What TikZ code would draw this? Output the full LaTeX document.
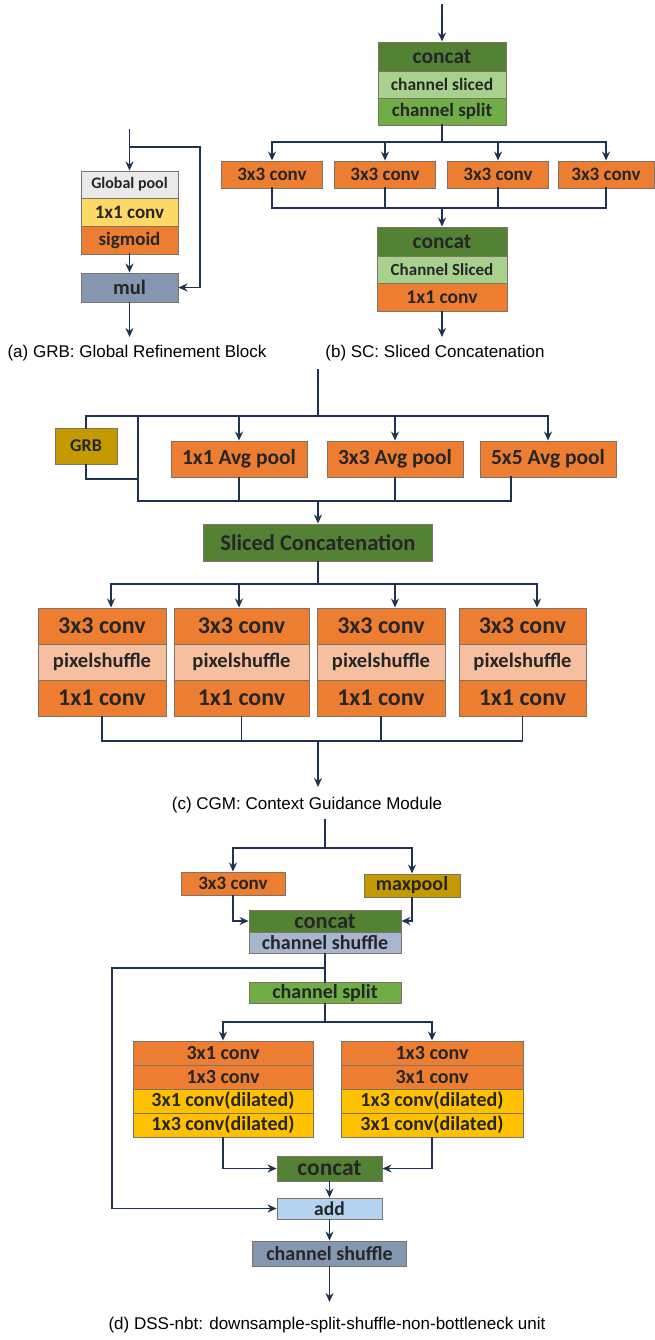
\documentclass[tikz,border=0pt]{standalone}
\usepackage{fontspec}
\setmainfont{Liberation Sans}
\newfontfamily\boxfont{Carlito}
\usetikzlibrary{arrows.meta, positioning, calc}
\definecolor{convorange}{HTML}{ED7D31}
\definecolor{darkgreen}{HTML}{548235}
\definecolor{midgreen}{HTML}{70AD47}
\definecolor{palegreen}{HTML}{A9D18E}
\definecolor{poolgray}{HTML}{EAEAEA}
\definecolor{lightyellow}{HTML}{FFD966}
\definecolor{dilyellow}{HTML}{FFC000}
\definecolor{slateblue}{HTML}{8497B0}
\definecolor{paleslate}{HTML}{A6B6CE}
\definecolor{addblue}{HTML}{B4D3F0}
\definecolor{goldbox}{HTML}{C59A00}
\definecolor{peach}{HTML}{F6BFA0}
\definecolor{linec}{HTML}{1F3350}
\definecolor{edgec}{HTML}{7F7366}
\newcommand{\fsz}[1]{\fontsize{#1}{#1}\selectfont}

\begin{document}
\begin{tikzpicture}[
  x=1pt, y=-1pt,
  blk/.style={draw=edgec, line width=0.9pt, inner sep=0pt, text=black!85, font=\boxfont\bfseries\fsz{#1}},
  blk/.default=19,
  ln/.style={draw=linec, line width=1.9pt, line cap=rect},
  arr/.style={ln, -{Stealth[length=9pt, width=8pt]}},
  captxt/.style={font=\fsz{17}, text=black}
]
  \fill[white] (0,0) rectangle (654,1340);
  \useasboundingbox (0,0) rectangle (654,1340);

  % (a) GRB
  \coordinate (gin) at (129.5,130);
  \coordinate (gsplit) at (129.5,147);
  \coordinate (gside) at (200,287.5);
  \coordinate (gout) at (129.5,337);
  \node[blk=16, fill=poolgray, minimum width=97, minimum height=27] (gpool) at (129.5,184.5) {Global pool};
  \node[blk=19, fill=lightyellow, minimum width=97, minimum height=28] (gconv) at (129.5,212) {1x1 conv};
  \node[blk=19, fill=convorange, minimum width=97, minimum height=28] (gsig) at (129.5,240) {sigmoid};
  \node[blk=20.5, fill=slateblue, minimum width=97, minimum height=29] (gmul) at (129.5,287.5) {mul};
  \draw[arr] (gin) -- (gpool.north);
  \draw[arr] (gsplit) -| (gside) -- (gmul.east);
  \draw[arr] (gsig.south) -- (gmul.north);
  \draw[arr] (gmul.south) -- (gout);
  \node[captxt] (capa) at (137,353) {(a) GRB: Global Refinement Block};

  % (b) SC
  \coordinate (sin) at (442,5);
  \coordinate (sfan) at (442,142);
  \coordinate (sjoin) at (442,208);
  \coordinate (sout) at (442,337);
  \node[blk=21.5, fill=darkgreen, minimum width=128, minimum height=29] (scat) at (442,56.5) {concat};
  \node[blk=17.5, fill=palegreen, minimum width=128, minimum height=27] (ssl) at (442,84.5) {channel sliced};
  \node[blk=19, fill=midgreen, minimum width=128, minimum height=27] (ssp) at (442,111.5) {channel split};
  \node[blk=19, fill=convorange, minimum width=101, minimum height=27] (sc1) at (272,174.5) {3x3 conv};
  \node[blk=19, fill=convorange, minimum width=101, minimum height=27] (sc2) at (385,174.5) {3x3 conv};
  \node[blk=19, fill=convorange, minimum width=101, minimum height=27] (sc3) at (498,174.5) {3x3 conv};
  \node[blk=19, fill=convorange, minimum width=96, minimum height=27] (sc4) at (606,174.5) {3x3 conv};
  \node[blk=21.5, fill=darkgreen, minimum width=130, minimum height=29] (scat2) at (442,241.5) {concat};
  \node[blk=17, fill=palegreen, minimum width=130, minimum height=27] (ssl2) at (442,269.5) {Channel Sliced};
  \node[blk=19.5, fill=convorange, minimum width=130, minimum height=28] (sconv) at (442,297) {1x1 conv};
  \draw[arr] (sin) -- (scat.north);
  \draw[ln] (ssp.south) -- (sfan);
  \draw[ln] (sc1.north |- sfan) -- (sc4.north |- sfan);
  \draw[arr] (sc1.north |- sfan) -- (sc1.north);
  \draw[arr] (sc2.north |- sfan) -- (sc2.north);
  \draw[arr] (sc3.north |- sfan) -- (sc3.north);
  \draw[arr] (sc4.north |- sfan) -- (sc4.north);
  \draw[ln] (sc1.south) -- (sc1.south |- sjoin) -- (sc4.south |- sjoin) -- (sc4.south);
  \draw[ln] (sc2.south) -- (sc2.south |- sjoin);
  \draw[ln] (sc3.south) -- (sc3.south |- sjoin);
  \draw[arr] (sjoin) -- (scat2.north);
  \draw[arr] (sconv.south) -- (sout);
  \node[captxt] (capb) at (435,353) {(b) SC: Sliced Concatenation};

  % (c) CGM
  \coordinate (cin) at (318,370);
  \coordinate (cfan) at (318,416);
  \coordinate (cbust) at (138,416);
  \coordinate (cgrbret) at (138,479);
  \coordinate (cjoin) at (318,501);
  \coordinate (p3out) at (511,477);
  \coordinate (cfan2) at (318,584);
  \coordinate (cjoin2) at (318,741);
  \coordinate (cout) at (318,787);
  \node[blk=18, fill=goldbox, minimum width=62, minimum height=36] (grb) at (86,446) {GRB};
  \node[blk=21.5, fill=convorange, minimum width=136, minimum height=36] (p1) at (239,459) {1x1 Avg pool};
  \node[blk=21.5, fill=convorange, minimum width=136, minimum height=36] (p2) at (395,459) {3x3 Avg pool};
  \node[blk=21.5, fill=convorange, minimum width=136, minimum height=36] (p3) at (548,459) {5x5 Avg pool};
  \node[blk=22.5, fill=darkgreen, minimum width=229, minimum height=37] (slc) at (318,542.5) {Sliced Concatenation};
  \draw[ln] (cin) -- (cfan);
  \draw[ln] (grb.north) -- (grb.north |- cfan) -- (p3.north |- cfan);
  \draw[arr] (p1.north |- cfan) -- (p1.north);
  \draw[arr] (p2.north |- cfan) -- (p2.north);
  \draw[arr] (p3.north |- cfan) -- (p3.north);
  \draw[ln] (grb.south) |- (cgrbret);
  \draw[ln] (cbust) -- (cbust |- cjoin) -- (p3out |- cjoin) -- (p3out);
  \draw[ln] (p1.south) -- (p1.south |- cjoin);
  \draw[ln] (p2.south) -- (p2.south |- cjoin);
  \draw[arr] (cjoin) -- (slc.north);
  \draw[ln] (slc.south) -- (cfan2);

  \node[blk=24, fill=convorange, minimum width=128, minimum height=36] (ca1) at (102,626) {3x3 conv};
  \node[blk=20.5, fill=peach, minimum width=128, minimum height=36] (cb1) at (102,662) {pixelshuffle};
  \node[blk=24, fill=convorange, minimum width=128, minimum height=36] (cc1) at (102,698) {1x1 conv};
  \node[blk=24, fill=convorange, minimum width=135, minimum height=36] (ca2) at (241.5,626) {3x3 conv};
  \node[blk=20.5, fill=peach, minimum width=135, minimum height=36] (cb2) at (241.5,662) {pixelshuffle};
  \node[blk=24, fill=convorange, minimum width=135, minimum height=36] (cc2) at (241.5,698) {1x1 conv};
  \node[blk=24, fill=convorange, minimum width=128, minimum height=36] (ca3) at (381,626) {3x3 conv};
  \node[blk=20.5, fill=peach, minimum width=128, minimum height=36] (cb3) at (381,662) {pixelshuffle};
  \node[blk=24, fill=convorange, minimum width=128, minimum height=36] (cc3) at (381,698) {1x1 conv};
  \node[blk=24, fill=convorange, minimum width=127, minimum height=36] (ca4) at (522.5,626) {3x3 conv};
  \node[blk=20.5, fill=peach, minimum width=127, minimum height=36] (cb4) at (522.5,662) {pixelshuffle};
  \node[blk=24, fill=convorange, minimum width=127, minimum height=36] (cc4) at (522.5,698) {1x1 conv};
  \coordinate (ct1) at (111,584);
  \coordinate (ct2) at (239,584);
  \coordinate (ct3) at (395,584);
  \coordinate (ct4) at (537,584);
  \draw[ln] (ct1) -- (ct4);
  \draw[arr] (ct1) -- (ct1 |- ca1.north);
  \draw[arr] (ct2) -- (ct2 |- ca2.north);
  \draw[arr] (ct3) -- (ct3 |- ca3.north);
  \draw[arr] (ct4) -- (ct4 |- ca4.north);
  \draw[ln] (cc1.south) -- (cc1.south |- cjoin2) -- (cc4.south |- cjoin2) -- (cc4.south);
  \draw[ln] (cc2.south) -- (cc2.south |- cjoin2);
  \draw[ln] (cc3.south) -- (cc3.south |- cjoin2);
  \draw[arr] (cjoin2) -- (cout);
  \node[captxt] (capc) at (307,805) {(c) CGM: Context Guidance Module};

  % (d) DSS-nbt
  \coordinate (din) at (325,820);
  \coordinate (dfan) at (325,848);
  \coordinate (dbr) at (325,968);
  \coordinate (dskip) at (112,968);
  \coordinate (dfan2) at (325,1022);
  \coordinate (dout) at (329.5,1302);
  \node[blk=19, fill=convorange, minimum width=104, minimum height=23] (dconv) at (233,883.5) {3x3 conv};
  \node[blk=20, fill=goldbox, minimum width=96, minimum height=23] (maxp) at (412,885.5) {maxpool};
  \node[blk=22.5, fill=darkgreen, minimum width=152, minimum height=22] (dcat) at (325,921) {concat};
  \node[blk=20, fill=paleslate, minimum width=152, minimum height=21] (dshf) at (325,942.5) {channel shuffle};
  \node[blk=20, fill=midgreen, minimum width=152, minimum height=21] (dspl) at (325,993) {channel split};
  \node[blk=20, fill=convorange, minimum width=180, minimum height=24] (dl1) at (223,1053) {3x1 conv};
  \node[blk=20, fill=convorange, minimum width=180, minimum height=24] (dl2) at (223,1077) {1x3 conv};
  \node[blk=20, fill=dilyellow, minimum width=180, minimum height=24] (dl3) at (223,1101) {3x1 conv(dilated)};
  \node[blk=20, fill=dilyellow, minimum width=180, minimum height=24] (dl4) at (223,1125) {1x3 conv(dilated)};
  \node[blk=20, fill=convorange, minimum width=182, minimum height=24] (dr1) at (432,1053) {1x3 conv};
  \node[blk=20, fill=convorange, minimum width=182, minimum height=24] (dr2) at (432,1077) {3x1 conv};
  \node[blk=20, fill=dilyellow, minimum width=182, minimum height=24] (dr3) at (432,1101) {1x3 conv(dilated)};
  \node[blk=20, fill=dilyellow, minimum width=182, minimum height=24] (dr4) at (432,1125) {3x1 conv(dilated)};
  \node[blk=23.5, fill=darkgreen, minimum width=105, minimum height=25] (bcat) at (329.5,1168.5) {concat};
  \node[blk=19.5, fill=addblue, minimum width=105, minimum height=21] (dadd) at (329.5,1208.5) {add};
  \node[blk=20, fill=slateblue, minimum width=154, minimum height=25] (dshf2) at (329.5,1253.5) {channel shuffle};
  \draw[ln] (din) -- (dfan);
  \draw[ln] (dconv.north |- dfan) -- (maxp.north |- dfan);
  \draw[arr] (dconv.north |- dfan) -- (dconv.north);
  \draw[arr] (maxp.north |- dfan) -- (maxp.north);
  \draw[arr] (dconv.south) |- (dcat.west);
  \draw[arr] (maxp.south) |- (dcat.east);
  \draw[ln] (dshf.south) -- (dspl.north);
  \draw[arr] (dbr) -- (dskip) |- (dadd.west);
  \draw[ln] (dspl.south) -- (dfan2);
  \draw[ln] (dl1.north |- dfan2) -- (dr1.north |- dfan2);
  \draw[arr] (dl1.north |- dfan2) -- (dl1.north);
  \draw[arr] (dr1.north |- dfan2) -- (dr1.north);
  \draw[arr] (dl4.south) |- (bcat.west);
  \draw[arr] (dr4.south) |- (bcat.east);
  \draw[arr] (bcat.south) -- (dadd.north);
  \draw[arr] (dadd.south) -- (dshf2.north);
  \draw[arr] (dshf2.south) -- (dout);
  \node[captxt] (capd) at (327,1325) {(d) DSS-nbt: downsample-split-shuffle-non-bottleneck unit};
\end{tikzpicture}
\end{document}
